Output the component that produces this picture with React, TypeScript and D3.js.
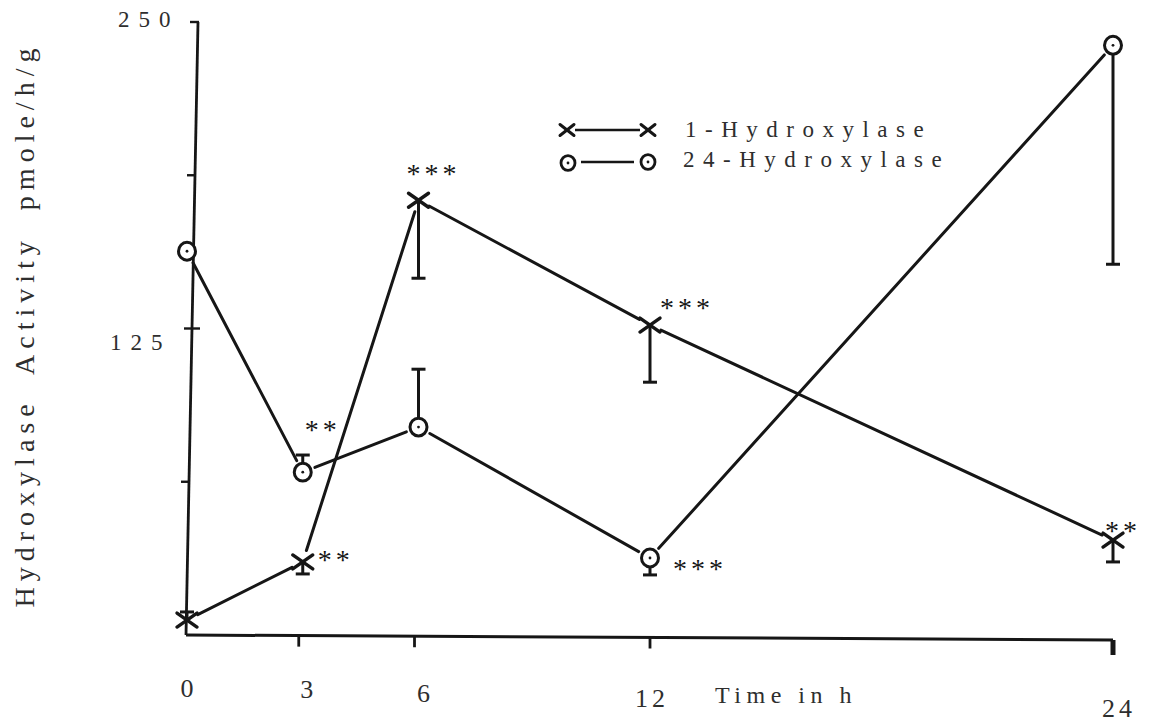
import React from "react";
import * as d3 from "d3";

// Sampling times (h)
const hours = [0, 3, 6, 12, 24];
const xTickLabels = ["0", "3", "6", "12", "24"];

// Enzyme activity, pmole/h/g
const oneHydroxylase = [6.1, 29.8, 177.3, 126.4, 38.7];
const oneHydroxylaseErrEnd = [9.4, 24.9, 145.5, 103.1, 29.8];
const oneHydroxylaseSig = ["", "**", "***", "***", "**"];

const twentyFourHydroxylase = [156.5, 66.4, 84.8, 31.4, 240.5];
const twentyFourHydroxylaseErrEnd: (number | null)[] = [null, 73.4, 108.4, 24.5, 151.2];
const twentyFourHydroxylaseSig = ["", "**", "", "***", ""];

const yTicks = [62.5, 125, 187.5, 250];
const yTickLabels = ["", "125", "", "250"];

const legendLabels = ["1-Hydroxylase", "24-Hydroxylase"];

const W = 1153;
const H = 723;
const INK = "#161616";
const TEXT = "#2e2e2e";
const FONT = "'Liberation Serif', 'Times New Roman', 'DejaVu Serif', serif";

const x = d3.scaleLinear().domain([0, 24]).range([187, 1113]);
const y = d3.scaleLinear().domain([0, 250]).range([635, 22]);

// Typed labels under the time axis sit at slightly different heights
const xLabelBaseline = [697, 698, 702, 707, 717];
const xLabelShift = [0, 4, 5, 0, 4];

// Placement of each significance mark (left edge, vertical centre) relative to its point
const sigOffsetOne = [
  [0, 0],
  [17, -6],
  [-10, -30],
  [12, -21],
  [-6, -13],
];
const sigOffsetTwentyFour = [
  [0, 0],
  [4, -46],
  [0, 0],
  [25, 7],
  [0, 0],
];

function shorten(x1: number, y1: number, x2: number, y2: number, g1: number, g2: number) {
  const dx = x2 - x1;
  const dy = y2 - y1;
  const len = Math.hypot(dx, dy);
  const ux = dx / len;
  const uy = dy / len;
  return [x1 + ux * g1, y1 + uy * g1, x2 - ux * g2, y2 - uy * g2];
}

function Cross({ cx, cy, w = 10, h = 7, sw = 3.4 }: { cx: number; cy: number; w?: number; h?: number; sw?: number }) {
  return (
    <g stroke={INK} strokeWidth={sw} strokeLinecap="round">
      <line x1={cx - w} y1={cy - h} x2={cx + w} y2={cy + h} />
      <line x1={cx - w} y1={cy + h} x2={cx + w} y2={cy - h} />
    </g>
  );
}

function Ring({ cx, cy, r = 8.5, sw = 3 }: { cx: number; cy: number; r?: number; sw?: number }) {
  return (
    <g>
      <ellipse cx={cx} cy={cy} rx={r} ry={r * 1.05} fill="#fff" stroke={INK} strokeWidth={sw} />
      <circle cx={cx} cy={cy} r={1.4} fill={INK} />
    </g>
  );
}

function Series({
  values,
  errEnd,
  marker,
  gap,
}: {
  values: number[];
  errEnd: (number | null)[];
  marker: "cross" | "ring";
  gap: number;
}) {
  const pts = hours.map((h, i) => [x(h), y(values[i])]);
  return (
    <g>
      {pts.slice(1).map((p, i) => {
        const [a1, b1, a2, b2] = shorten(pts[i][0], pts[i][1], p[0], p[1], gap, gap);
        return (
          <line key={i} x1={a1} y1={b1} x2={a2} y2={b2} stroke={INK} strokeWidth={3} strokeLinecap="round" />
        );
      })}
      {pts.map((p, i) => {
        const e = errEnd[i];
        if (e == null) return null;
        const ey = y(e);
        return (
          <g key={"e" + i} stroke={INK} strokeWidth={3}>
            <line x1={p[0]} y1={p[1]} x2={p[0]} y2={ey} />
            <line x1={p[0] - 7} y1={ey} x2={p[0] + 7} y2={ey} />
          </g>
        );
      })}
      {pts.map((p, i) =>
        marker === "cross" ? <Cross key={"m" + i} cx={p[0]} cy={p[1]} /> : <Ring key={"m" + i} cx={p[0]} cy={p[1]} />
      )}
    </g>
  );
}

function Stars({ label, px, py, off }: { label: string; px: number; py: number; off: number[] }) {
  if (!label) return null;
  return (
    <text
      x={px + off[0] - 2}
      y={py + off[1] + 13}
      fontFamily={FONT}
      fontSize={28}
      letterSpacing={4}
      fill={INK}
    >
      {label}
    </text>
  );
}

export default function App() {
  const axisTopX = 198;
  const axisBottomX = 186;
  const axisY = y(0);
  const axisXAt = (v: number) => {
    const t = (y(v) - y(250)) / (axisY - y(250));
    return axisTopX + (axisBottomX - axisTopX) * t;
  };
  return (
    <svg
      width={W}
      height={H}
      viewBox={`0 0 ${W} ${H}`}
      style={{ position: "absolute", left: 0, top: 0, background: "#fff" }}
    >
      {/* activity axis */}
      <line x1={axisTopX} y1={y(250)} x2={axisBottomX} y2={axisY} stroke={INK} strokeWidth={2.8} />
      {yTicks.map((t, i) => {
        const ax = axisXAt(t);
        return (
          <g key={t}>
            <line x1={ax - 8} y1={y(t)} x2={ax + (t === 125 ? 8 : 1)} y2={y(t)} stroke={INK} strokeWidth={2.4} />
            {yTickLabels[i] && (
              <text
                x={t === 250 ? 118 : 110}
                y={y(t) + (t === 250 ? 5 : 21)}
                fontFamily={FONT}
                fontSize={23}
                letterSpacing={9}
                fill={TEXT}
              >
                {yTickLabels[i]}
              </text>
            )}
          </g>
        );
      })}
      <text
        transform={`translate(34, 325) rotate(-90)`}
        textAnchor="middle"
        fontFamily={FONT}
        fontSize={28}
        letterSpacing={6}
        wordSpacing={12}
        fill={TEXT}
      >
        Hydroxylase Activity pmole/h/g
      </text>

      {/* time axis */}
      <line x1={axisBottomX} y1={axisY} x2={x(24)} y2={axisY + 5} stroke={INK} strokeWidth={3} />
      {hours.map((h, i) => {
        const base = axisY + (5 * (x(h) - axisBottomX)) / (x(24) - axisBottomX);
        return (
          <g key={h}>
            {i > 0 && (
              <line
                x1={x(h) - (h === 3 || h === 6 ? 4 : 0)}
                y1={base}
                x2={x(h) - (h === 3 || h === 6 ? 4 : 0)}
                y2={base + (h === 24 ? 15 : 11)}
                stroke={INK}
                strokeWidth={h === 24 ? 5 : 2.8}
              />
            )}
            <text
              x={x(h) + xLabelShift[i] + 2}
              y={xLabelBaseline[i]}
              textAnchor="middle"
              fontFamily={FONT}
              fontSize={26}
              letterSpacing={4}
              fill={TEXT}
            >
              {xTickLabels[i]}
            </text>
          </g>
        );
      })}
      <text x={715} y={703} fontFamily={FONT} fontSize={24} letterSpacing={5.5} fill={TEXT}>
        Time in h
      </text>

      {/* data */}
      <Series values={twentyFourHydroxylase} errEnd={twentyFourHydroxylaseErrEnd} marker="ring" gap={13} />
      <Series values={oneHydroxylase} errEnd={oneHydroxylaseErrEnd} marker="cross" gap={12} />

      {hours.map((h, i) => (
        <g key={"s" + h}>
          <Stars label={oneHydroxylaseSig[i]} px={x(h)} py={y(oneHydroxylase[i])} off={sigOffsetOne[i]} />
          <Stars
            label={twentyFourHydroxylaseSig[i]}
            px={x(h)}
            py={y(twentyFourHydroxylase[i])}
            off={sigOffsetTwentyFour[i]}
          />
        </g>
      ))}

      {/* legend */}
      <g>
        <Cross cx={567} cy={130} w={7} h={5.5} sw={3} />
        <line x1={575} y1={130} x2={640} y2={130} stroke={INK} strokeWidth={2.4} />
        <Cross cx={648} cy={130} w={7} h={5.5} sw={3} />
        <text x={685} y={137} fontFamily={FONT} fontSize={23} letterSpacing={8.5} fill={TEXT}>
          {legendLabels[0]}
        </text>
        <Ring cx={568} cy={163} r={7} sw={2.8} />
        <line x1={581} y1={162} x2={634} y2={162} stroke={INK} strokeWidth={2.4} />
        <Ring cx={648} cy={162} r={7} sw={2.8} />
        <text x={683} y={167} fontFamily={FONT} fontSize={23} letterSpacing={8.5} fill={TEXT}>
          {legendLabels[1]}
        </text>
      </g>
    </svg>
  );
}
